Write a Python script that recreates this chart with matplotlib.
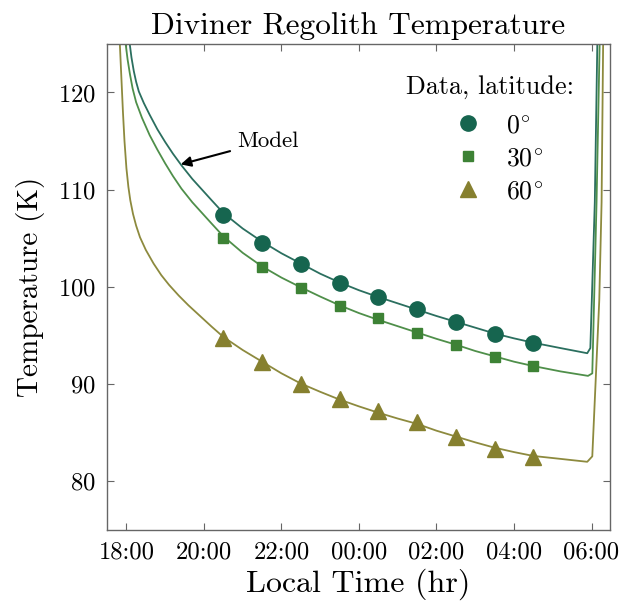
import matplotlib
matplotlib.use("Agg")
import matplotlib.pyplot as plt

plt.rcParams['font.family'] = ['cmr10', 'DejaVu Serif']
plt.rcParams['mathtext.fontset'] = 'cm'
plt.rcParams['axes.formatter.use_mathtext'] = True

# hours after 18:00 local time
tick_pos = [0, 2, 4, 6, 8, 10, 12]
tick_labels = ['18:00', '20:00', '22:00', '00:00', '02:00', '04:00', '06:00']
legend_labels = [r'$0^{\!\circ}$', r'$30^{\!\circ}$', r'$60^{\!\circ}$']

data_hours = [2.5, 3.5, 4.5, 5.5, 6.5, 7.5, 8.5, 9.5, 10.5]
data_0 = [107.4, 104.55, 102.35, 100.35, 98.95, 97.7, 96.35, 95.1, 94.2]
data_30 = [105.05, 102.05, 99.9, 98.0, 96.8, 95.3, 94.0, 92.8, 91.9]
data_60 = [94.7, 92.3, 90.0, 88.5, 87.2, 86.1, 84.55, 83.3, 82.5]

model0_hours = [0.085, 0.13, 0.19, 0.25, 0.32, 0.45, 0.6, 0.8, 1.0, 1.2, 1.42, 1.7, 1.95,
                2.2, 2.5, 3.0, 3.5, 4.0, 4.5, 5.0, 5.5, 6.0, 6.5, 7.0, 7.5, 8.0, 8.5,
                9.0, 9.5, 10.0, 10.5, 11.2, 11.89, 11.97, 12.085, 12.15]
model0_temp = [125.0, 123.6, 122.2, 121.1, 120.1, 118.9, 117.7, 116.2, 114.9, 113.7, 112.5,
               111.1, 110.0, 108.9, 107.6, 106.0, 104.65, 103.45, 102.4, 101.35, 100.45,
               99.65, 98.95, 98.3, 97.65, 97.0, 96.4, 95.8, 95.2, 94.7, 94.25, 93.7,
               93.17, 93.7, 108.7, 125.0]

model30_hours = [-0.02, 0.03, 0.09, 0.16, 0.25, 0.4, 0.6, 0.8, 1.0, 1.2, 1.42, 1.7, 1.95,
                 2.2, 2.5, 3.0, 3.5, 4.0, 4.5, 5.0, 5.5, 6.0, 6.5, 7.0, 7.5, 8.0, 8.5,
                 9.0, 9.5, 10.0, 10.5, 11.2, 11.91, 12.02, 12.13, 12.21]
model30_temp = [125.0, 123.4, 121.9, 120.4, 119.0, 117.4, 115.6, 114.1, 112.7, 111.4, 110.1,
                108.7, 107.6, 106.5, 105.2, 103.5, 102.1, 100.95, 99.95, 99.0, 98.1, 97.3,
                96.6, 95.95, 95.3, 94.65, 94.05, 93.4, 92.85, 92.3, 91.85, 91.3, 90.84,
                91.1, 108.7, 125.0]

model60_hours = [-0.17, -0.13, -0.09, -0.05, 0.0, 0.05, 0.1, 0.17, 0.25, 0.35, 0.5, 0.7, 0.9,
                 1.1, 1.35, 1.6, 1.9, 2.2, 2.5, 3.0, 3.5, 4.0, 4.5, 5.0, 5.5, 6.0, 6.5,
                 7.0, 7.5, 8.0, 8.5, 9.0, 9.5, 10.0, 10.5, 11.2, 11.89, 12.02, 12.2, 12.26, 12.3]
model60_temp = [125.0, 121.5, 118.0, 115.0, 112.2, 110.3, 108.9, 107.5, 106.3, 105.1, 103.8,
                102.4, 101.2, 100.2, 99.1, 98.1, 97.0, 95.9, 94.85, 93.5, 92.3, 91.1, 90.05,
                89.2, 88.4, 87.7, 87.05, 86.45, 85.9, 85.2, 84.6, 84.0, 83.45, 83.0, 82.6,
                82.3, 82.0, 82.56, 98.6, 108.7, 125.0]

c0 = '#16654f'
c30 = '#3d8235'
c60 = '#86802f'
l0 = '#2b6f5f'
l30 = '#4f8f4a'
l60 = '#8d8a3e'

fig = plt.figure(figsize=(6.26, 6.09), dpi=100)
ax = fig.add_axes([0.171, 0.130, 0.803, 0.798])

ax.plot(model0_hours, model0_temp, color=l0, lw=1.3, zorder=2)
ax.plot(model30_hours, model30_temp, color=l30, lw=1.3, zorder=2)
ax.plot(model60_hours, model60_temp, color=l60, lw=1.3, zorder=2)

ax.plot(data_hours, data_0, 'o', color=c0, ms=11, ls='none', zorder=3, label=legend_labels[0])
ax.plot(data_hours, data_30, 's', color=c30, ms=7.5, ls='none', zorder=3, label=legend_labels[1])
ax.plot(data_hours, data_60, '^', color=c60, ms=12, ls='none', zorder=3, label=legend_labels[2])

ax.set_xlim(-0.5, 12.47)
ax.set_ylim(75, 125)
ax.set_xticks(tick_pos)
ax.set_xticklabels(tick_labels)
ax.set_yticks([80, 90, 100, 110, 120])

ax.tick_params(direction='in', top=True, right=True, length=5, width=0.8,
               color='#666666', labelsize=17.7, pad=8)
for s in ax.spines.values():
    s.set_color('#666666')
    s.set_linewidth(1.0)

ax.set_title('Diviner Regolith Temperature', fontsize=22.5, pad=7)
ax.set_xlabel('Local Time (hr)', fontsize=23, labelpad=4)
ax.set_ylabel('Temperature (K)', fontsize=21, labelpad=9)

ax.text(0.761, 0.9115, 'Data, latitude:', transform=ax.transAxes, fontsize=18.8,
        ha='center', va='center')
leg = ax.legend(loc='upper left', frameon=False, fontsize=18.5,
                handlelength=1.0, handletextpad=0.98, borderpad=0, borderaxespad=0,
                bbox_to_anchor=(0.693, 0.857), labelspacing=0.36)

ax.annotate('Model', xy=(1.4, 112.6), xytext=(2.85, 115.0), fontsize=16.5,
            ha='left', va='center',
            arrowprops=dict(arrowstyle='-|>', color='black', lw=1.5, mutation_scale=15,
                            shrinkA=3, shrinkB=0))

fig.savefig('out.png', dpi=100)
